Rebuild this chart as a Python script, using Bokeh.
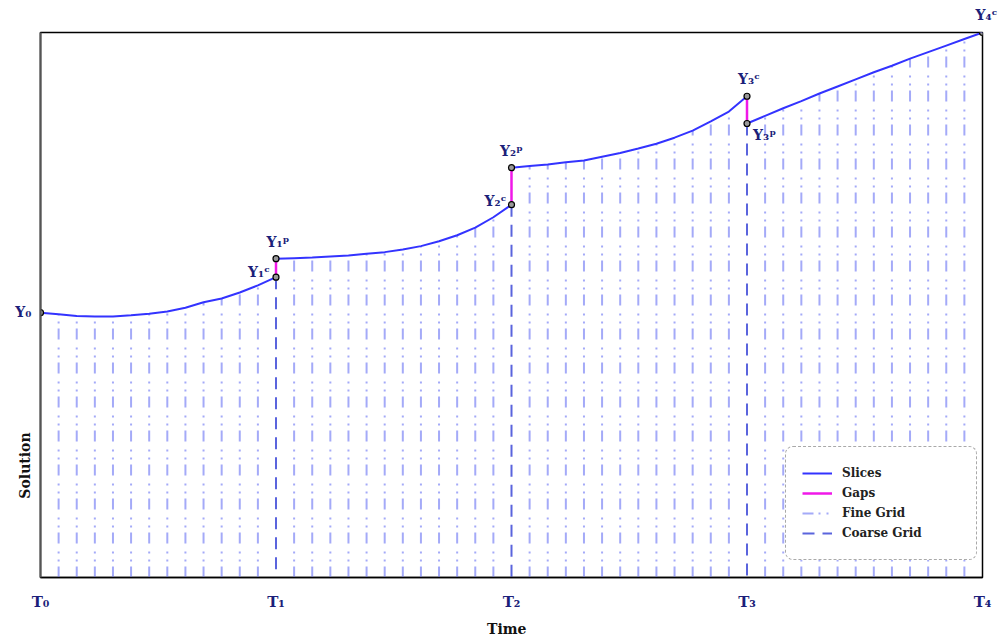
import math
from bokeh.plotting import figure
from bokeh.models import Range1d, FixedTicker, Label, Legend, LegendItem
from bokeh.embed import file_html
from bokeh.resources import INLINE

# ---------------- data ----------------
coarse_times = [0, 1, 2, 3, 4]
time_labels = ["T\u2080", "T\u2081", "T\u2082", "T\u2083", "T\u2084"]
fine_steps = 13  # fine sub-intervals per coarse interval

# solution values at the fine-grid nodes of each slice
slice1 = [0.486, 0.483, 0.480, 0.479, 0.479, 0.481, 0.484, 0.488, 0.495, 0.505, 0.512, 0.523, 0.536, 0.551]
slice2 = [0.585, 0.586, 0.587, 0.589, 0.591, 0.594, 0.597, 0.602, 0.608, 0.617, 0.628, 0.642, 0.661, 0.684]
slice3 = [0.752, 0.755, 0.758, 0.762, 0.765, 0.772, 0.779, 0.787, 0.796, 0.807, 0.820, 0.837, 0.855, 0.883]
slice4 = [0.833, 0.847, 0.861, 0.874, 0.888, 0.901, 0.914, 0.927, 0.939, 0.952, 0.964, 0.976, 0.988, 1.000]
slices = [slice1, slice2, slice3, slice4]

NAVY = "#1c1f7a"
FONT = "DejaVu Serif"

# ---------------- figure ----------------
p = figure(width=1003, height=639, output_backend="svg", toolbar_location=None,
           x_range=Range1d(0, 4), y_range=Range1d(0, 1),
           min_border_left=40, min_border_right=21, min_border_top=32, min_border_bottom=62)
p.xgrid.visible = False
p.ygrid.visible = False
p.outline_line_color = "black"
p.outline_line_width = 1.5
p.background_fill_color = "white"
p.border_fill_color = "white"

p.xaxis.ticker = FixedTicker(ticks=coarse_times)
p.xaxis.major_label_overrides = {t: lab for t, lab in zip(coarse_times, time_labels)}
p.xaxis.major_tick_line_color = None
p.xaxis.minor_tick_line_color = None
p.xaxis.axis_line_color = "black"
p.xaxis.axis_line_width = 1.5
p.xaxis.major_label_standoff = 9
p.xaxis.major_label_text_font = FONT
p.xaxis.major_label_text_font_style = "bold"
p.xaxis.major_label_text_font_size = "15px"
p.xaxis.major_label_text_color = NAVY

p.yaxis.ticker = FixedTicker(ticks=[])
p.yaxis.major_tick_line_color = None
p.yaxis.minor_tick_line_color = None
p.yaxis.axis_line_color = "#555555"
p.yaxis.axis_line_width = 2

# fine grid
fx, fy1 = [], []
for k, sl in enumerate(slices):
    for j in range(1, fine_steps):
        fx.append(coarse_times[k] + j / fine_steps)
        fy1.append(sl[j])
r_fine = p.segment(x0=fx, y0=[0] * len(fx), x1=fx, y1=fy1,
                   line_color="#a4aaf8", line_width=2, line_dash="11 5 2 6 2 8")

# coarse grid
cx, cy1 = [], []
for k in range(1, 4):
    cx.append(coarse_times[k])
    cy1.append(min(slices[k - 1][-1], slices[k][0]))
r_coarse = p.segment(x0=cx, y0=cy1, x1=cx, y1=[0] * len(cx),
                     line_color="#5a64dd", line_width=2, line_dash="12 8")

# slices
xs = [[coarse_times[k] + j / fine_steps for j in range(fine_steps + 1)] for k in range(4)]
r_slices = p.multi_line(xs=xs, ys=slices, line_color="#3333ff", line_width=2)

# gaps
gx, gc, gp = [], [], []
for k in range(1, 4):
    gx.append(coarse_times[k])
    gc.append(slices[k - 1][-1])
    gp.append(slices[k][0])
r_gaps = p.segment(x0=gx, y0=gc, x1=gx, y1=gp, line_color="#f018e8", line_width=2.5)

# points
px = [0] + gx + gx + [4]
py = [slice1[0]] + gc + gp + [slice4[-1]]
p.scatter(px, py, size=6, line_color="black", fill_color="#999999", line_width=1.2)

# point labels: (text, x, y, align, baseline, x_off, y_off, panel)
lab_specs = [
    ("Y\u2080", 0, slice1[0], "right", "middle", -9, 1, "left"),
    ("Y\u2081\u1d9c", 1, slice1[-1], "right", "middle", -6, 5, "center"),
    ("Y\u2081\u1d56", 1, slice2[0], "center", "bottom", 2, 9, "center"),
    ("Y\u2082\u1d9c", 2, slice2[-1], "right", "middle", -5, 4, "center"),
    ("Y\u2082\u1d56", 2, slice3[0], "center", "bottom", 0, 9, "center"),
    ("Y\u2083\u1d9c", 3, slice3[-1], "center", "bottom", 2, 9, "center"),
    ("Y\u2083\u1d56", 3, slice4[0], "left", "middle", 6, -11, "center"),
    ("Y\u2084\u1d9c", 4, slice4[-1], "center", "bottom", 4, 10, "above"),
]
for t, x, y, al, bl, xo, yo, panel in lab_specs:
    p.add_layout(Label(x=x, y=y, text=t, text_align=al, text_baseline=bl,
                       x_offset=xo, y_offset=yo, text_font=FONT,
                       text_font_style="bold", text_font_size="14px", text_color=NAVY), panel)

# axis titles
p.add_layout(Label(x=1.98, y=-0.0936, text="Time", text_align="center", text_baseline="middle",
                   text_font=FONT, text_font_style="bold", text_font_size="14px",
                   text_color="#111111"), "below")
p.add_layout(Label(x=-0.0637, y=0.2055, text="Solution", angle=math.pi / 2, text_align="center",
                   text_baseline="middle", text_font=FONT, text_font_style="bold",
                   text_font_size="14px", text_color="#111111"), "left")

legend = Legend(items=[
    LegendItem(label="Slices", renderers=[r_slices]),
    LegendItem(label="Gaps", renderers=[r_gaps]),
    LegendItem(label="Fine Grid", renderers=[r_fine]),
    LegendItem(label="Coarse Grid", renderers=[r_coarse]),
], location=(745, 17))
legend.border_line_color = "#555555"
legend.border_line_dash = "dotted"
legend.border_line_width = 1.5
legend.background_fill_color = "white"
legend.background_fill_alpha = 1
legend.label_text_font = FONT
legend.label_text_font_style = "bold"
legend.label_text_font_size = "12px"
legend.label_text_color = "#222222"
legend.glyph_width = 30
legend.label_standoff = 10
legend.padding = 16
legend.spacing = 0
legend.label_height = 19
legend.label_width = 118
try:
    legend.border_radius = 8
except Exception:
    pass
p.add_layout(legend)

open("out.html", "w").write(file_html(p, INLINE))
